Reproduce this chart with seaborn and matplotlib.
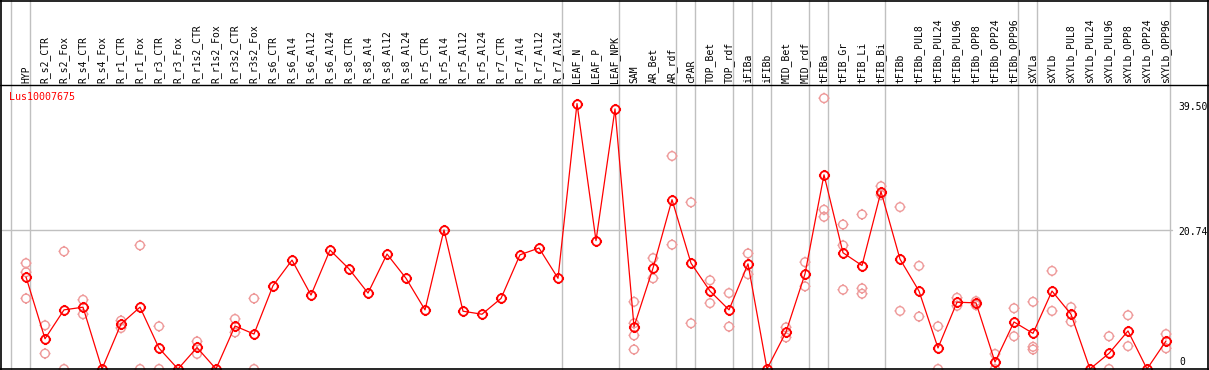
import matplotlib
matplotlib.use("Agg")
import matplotlib.pyplot as plt
from matplotlib.path import Path
import numpy as np
import seaborn as sns

# ---------------- data ----------------
samples = ["HYP", "R_s2_CTR", "R_s2_Fox", "R_s4_CTR", "R_s4_Fox", "R_r1_CTR", "R_r1_Fox",
           "R_r3_CTR", "R_r3_Fox", "R_r1s2_CTR", "R_r1s2_Fox", "R_r3s2_CTR", "R_r3s2_Fox",
           "R_s6_CTR", "R_s6_Al4", "R_s6_Al12", "R_s6_Al24", "R_s8_CTR", "R_s8_Al4",
           "R_s8_Al12", "R_s8_Al24", "R_r5_CTR", "R_r5_Al4", "R_r5_Al12", "R_r5_Al24",
           "R_r7_CTR", "R_r7_Al4", "R_r7_Al12", "R_r7_Al24", "LEAF_N", "LEAF_P", "LEAF_NPK",
           "SAM", "AR_Bet", "AR_rdf", "cPAR", "TOP_Bet", "TOP_rdf", "iFIBa", "iFIBb",
           "MID_Bet", "MID_rdf", "tFIBa", "tFIB_Gr", "tFIB_Li", "tFIB_Bi", "tFIBb",
           "tFIBb_PUL8", "tFIBb_PUL24", "tFIBb_PUL96", "tFIBb_OPP8", "tFIBb_OPP24",
           "tFIBb_OPP96", "sXYLa", "sXYLb", "sXYLb_PUL8", "sXYLb_PUL24", "sXYLb_PUL96",
           "sXYLb_OPP8", "sXYLb_OPP24", "sXYLb_OPP96"]

mean_values = [13.7, 4.5, 8.8, 9.2, 0.0, 6.7, 9.2, 3.1, 0.0, 3.2, 0.0, 6.4, 5.2,
               12.4, 16.2, 11.0, 17.7, 14.9, 11.3, 17.1, 13.5, 8.8, 20.7, 8.6, 8.15,
               10.5, 17.0, 18.0, 13.5, 39.5, 19.1, 38.7,
               6.3, 15.0, 25.2, 15.75, 11.6, 8.8, 15.65, 0.0, 5.5, 14.15,
               28.9, 17.3, 15.4, 26.4, 16.35, 11.6, 3.13, 9.94, 9.84, 1.04, 7.0,
               5.3, 11.6, 8.15, 0.0, 2.33, 5.66, 0.0, 4.17]

replicates = [[15.75, 14.4, 10.5], [6.5, 2.3], [17.5, 0.0], [10.3, 8.15], [], [7.2, 6.1],
              [18.4, 0.0], [6.35, 0.0], [], [4.1, 2.25], [], [7.45, 5.45], [10.5, 0.0],
              [], [], [], [], [], [], [], [], [], [], [], [], [], [], [], [],
              [], [], [],
              [10.0, 6.8, 5.0, 2.9], [16.5, 13.5], [31.7, 18.5], [24.8, 6.8],
              [13.2, 9.8], [11.3, 6.3], [17.2, 14.1], [], [6.2, 4.7], [15.9, 12.3],
              [40.3, 23.7, 22.65], [21.5, 18.4, 11.8], [23.0, 12.0, 11.2], [27.2, 25.9],
              [24.1, 8.64], [15.35, 7.8], [6.35, 0.0], [10.6, 9.4], [10.1, 9.5],
              [2.24, 0.0], [9.04, 4.87],
              [10.0, 3.3, 2.9], [14.6, 8.64], [9.2, 7.05], [], [4.87, 0.0], [8.0, 3.4],
              [], [5.2, 3.08]]

group_sizes = [1, 28, 3, 3, 1, 2, 1, 1, 2, 1, 3, 7, 1, 7]
gene_name = "Lus10007675"
y_tick_values = [39.50, 20.74, 0]
y_tick_labels = ["39.50", "20.74", "0"]

# ---------------- figure ----------------
W, H = 1209, 370
sns.set_style("white")
fig = plt.figure(figsize=(W / 100, H / 100), dpi=100)
ax = fig.add_axes([0, 0, 1, 1])
for s in ax.spines.values():
    s.set_visible(False)
ax.set_xticks([])
ax.set_yticks([])

# pixel mapping helpers
X0, DX = 26.0, 19.0        # pixel x of first column, column spacing
Y0, K = 369.0, 6.72        # pixel y of value 0, pixels per unit
def px_x(p):
    return (p - X0) / DX
def px_y(p):
    return (Y0 - p) / K

mono = "DejaVu Sans Mono"
xs = np.arange(len(samples))

# vertical group separators
bounds = [-1] + list(np.cumsum(group_sizes) - 1)
for b in bounds:
    ax.axvline(b + 0.21, color="#c0c0c0", lw=1.0, zorder=1)

# horizontal grid line at middle tick
ax.plot([px_x(2), px_x(1172)], [20.74, 20.74], color="#c0c0c0", lw=1.0, zorder=1)

# frame lines
ax.axhline(px_y(85), color="black", lw=1.0, zorder=5)
ax.axhline(px_y(0.5), color="black", lw=1.2, zorder=5)
ax.axhline(0, color="black", lw=1.2, zorder=5)
ax.axvline(px_x(1), color="black", lw=1.2, zorder=5)
ax.axvline(px_x(1207.5), color="black", lw=1.2, zorder=5)

# marker: polygonal circle with four short spikes
ang = np.linspace(0, 2 * np.pi, 33)
circ = Path(np.column_stack([np.cos(ang), np.sin(ang)]))
spikes = Path([(0, 1), (0, 1.3), (0, -1), (0, -1.3), (1, 0), (1.3, 0), (-1, 0), (-1.3, 0)],
              [Path.MOVETO, Path.LINETO] * 4)
marker_path = Path.make_compound_path(circ, spikes)

# replicates
rep_x, rep_y = [], []
for i, reps in enumerate(replicates):
    for v in reps:
        rep_x.append(i)
        rep_y.append(v)
sns.scatterplot(x=rep_x, y=rep_y, ax=ax, marker=marker_path, s=64,
                facecolors="none", edgecolor="#ee9999", color="#ee9999",
                linewidth=1.0, zorder=3, legend=False)

# means
sns.lineplot(x=xs, y=mean_values, ax=ax, color="red", lw=0.9, marker=marker_path,
             markersize=8, markerfacecolor="none", markeredgecolor="red",
             markeredgewidth=1.3, zorder=4, errorbar=None, legend=False)

ax.set_xlim(px_x(0), px_x(W))
ax.set_ylim(px_y(H), px_y(0))

# column labels
for i, lab in enumerate(samples):
    ax.text(i, px_y(83), lab, rotation=90, ha="center", va="bottom",
            fontsize=7, family=mono, color="black", zorder=6)

# gene name
ax.text(px_x(9), px_y(97.5), gene_name, ha="left", va="center", fontsize=7.2,
        family=mono, color="red", zorder=6)

# right-hand value labels
label_centers = [107, 232, 362]
for v, lab, yc in zip(y_tick_values, y_tick_labels, label_centers):
    xl = px_x(1178) if lab != "0" else px_x(1179)
    ax.text(xl, px_y(yc), lab, ha="left", va="center", fontsize=7,
            family=mono, color="black", zorder=6)

ax.set_xlabel("")
ax.set_ylabel("")
fig.savefig("out.png", dpi=100)
